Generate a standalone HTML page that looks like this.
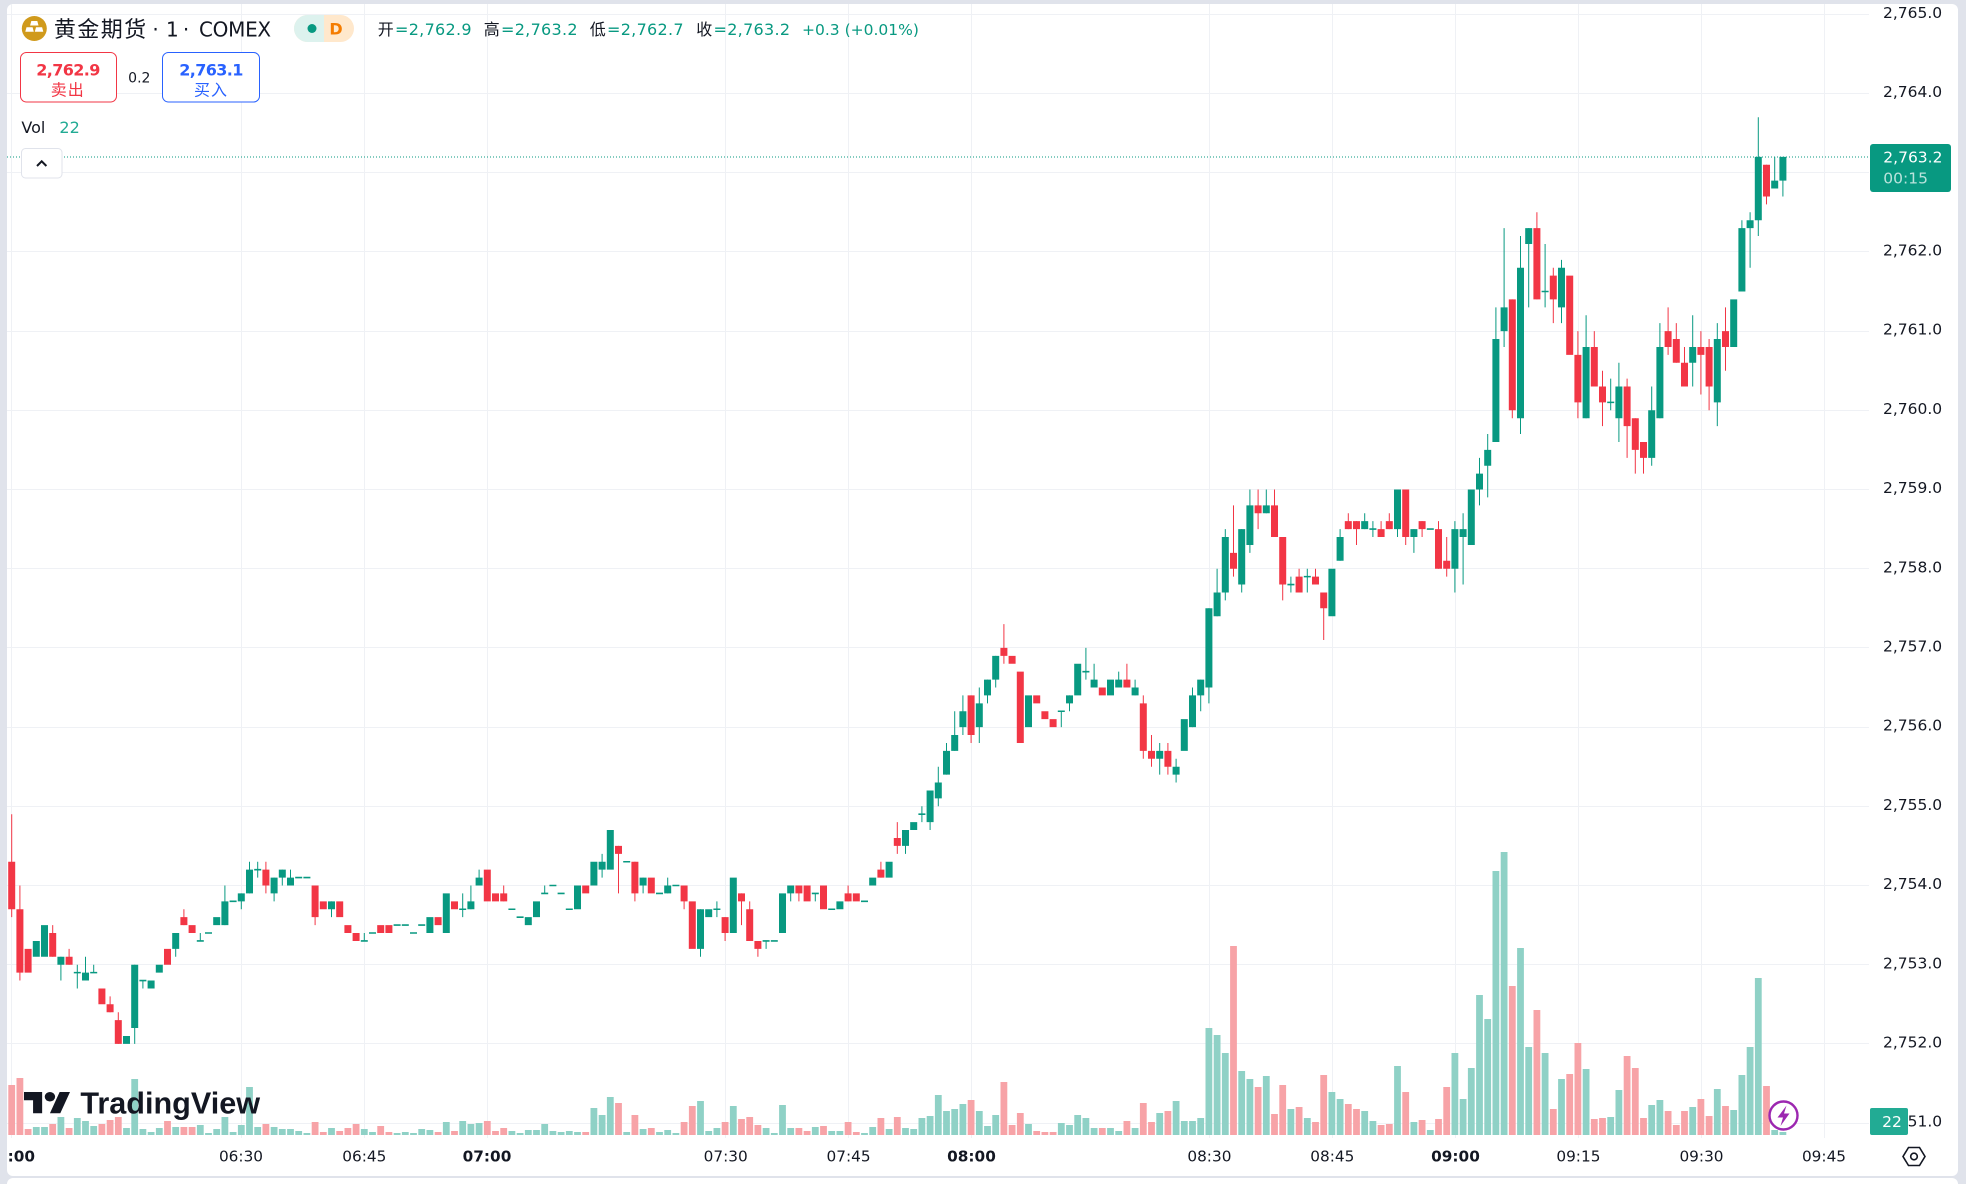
<!DOCTYPE html>
<html><head><meta charset="utf-8"><style>
html,body{margin:0;padding:0;overflow:hidden;width:1966px;height:1184px;}
body{background:#e0e3eb;}
.wrap{position:relative;width:1966px;height:1184px;overflow:hidden;background:#e0e3eb;}
.panel{position:absolute;left:7px;top:4px;width:1951px;height:1172px;background:#fff;border-radius:6px;}
.panel2{position:absolute;left:7px;top:1178px;width:1951px;height:6px;background:#fff;border-radius:6px 6px 0 0;}
svg{position:absolute;left:0;top:0;}
svg text{font-family:"DejaVu Sans","Liberation Sans","Noto Sans CJK SC",sans-serif;}
.cjk{font-family:"Liberation Sans","Noto Sans CJK SC",sans-serif !important;}
.ns{vector-effect:non-scaling-stroke;fill:none;}
</style></head><body>
<div class="wrap">
<div class="panel"></div><div class="panel2"></div>
<svg width="1966" height="1184" viewBox="0 0 1966 1184" xmlns="http://www.w3.org/2000/svg">
<defs>
<clipPath id="pane"><rect x="7" y="4" width="1862" height="1134"/></clipPath>
<clipPath id="taxis"><rect x="8" y="1138" width="1862" height="38"/></clipPath>
</defs>
<g clip-path="url(#pane)">
<path d="M7 14.5H1869M7 93.5H1869M7 172.5H1869M7 251.5H1869M7 331.5H1869M7 410.5H1869M7 489.5H1869M7 568.5H1869M7 647.5H1869M7 727.5H1869M7 806.5H1869M7 885.5H1869M7 964.5H1869M7 1043.5H1869M7 1123.5H1869" stroke="#eff1f5" stroke-width="1" fill="none"/>
<path d="M11.5 4V1138M241.5 4V1138M364.5 4V1138M487.5 4V1138M725.5 4V1138M848.5 4V1138M971.5 4V1138M1209.5 4V1138M1332.5 4V1138M1455.5 4V1138M1578.5 4V1138M1701.5 4V1138M1824.5 4V1138" stroke="#eff1f5" stroke-width="1" fill="none"/>
<g transform="translate(11.7 1135) scale(8.2 -1)">
<path class="ns" stroke="#f7a3a7" stroke-width="6.8" d="M0 0V50M1 0V57M2 0V6M5 0V11M7 0V7M11 0V11M12 0V15M13 0V18M19 0V14M21 0V8M22 0V8M31 0V11M37 0V13M38 0V3M40 0V4M41 0V7M42 0V11M45 0V9M46 0V3M52 0V3M54 0V4M58 0V14M59 0V4M60 0V7M70 0V3M74 0V32M76 0V20M78 0V7M82 0V13M83 0V29M87 0V13M89 0V16M90 0V18M91 0V10M96 0V7M97 0V4M99 0V9M102 0V13M103 0V3M106 0V17M108 0V18M117 0V35M121 0V53M122 0V10M123 0V22M125 0V4M126 0V3M127 0V3M133 0V7M136 0V14M138 0V32M139 0V13M141 0V24M149 0V189M152 0V48M154 0V21M155 0V50M157 0V28M159 0V13M160 0V60M163 0V31M164 0V26M167 0V10M168 0V11M170 0V43M172 0V15M174 0V16M175 0V48M183 0V149M186 0V125M188 0V26M190 0V61M191 0V92M193 0V16M194 0V17M197 0V79M198 0V67M199 0V17M202 0V24M203 0V10M204 0V24M206 0V36M207 0V19M209 0V29M214 0V49"/>
<path class="ns" stroke="#8fd1c6" stroke-width="6.8" d="M3 0V8M4 0V8M6 0V18M8 0V17M9 0V14M10 0V9M14 0V7M15 0V56M16 0V6M17 0V3M18 0V7M20 0V8M23 0V10M24 0V2M25 0V6M26 0V18M27 0V3M28 0V10M29 0V48M30 0V8M32 0V8M33 0V6M34 0V6M35 0V4M36 0V2M39 0V7M43 0V6M44 0V3M47 0V2M48 0V3M49 0V2M50 0V6M51 0V5M53 0V13M55 0V14M56 0V11M57 0V12M61 0V4M62 0V2M63 0V5M64 0V5M65 0V11M66 0V4M67 0V3M68 0V4M69 0V3M71 0V27M72 0V20M73 0V38M75 0V3M77 0V6M79 0V3M80 0V5M81 0V2M84 0V34M85 0V4M86 0V7M88 0V29M92 0V7M93 0V2M94 0V30M95 0V7M98 0V8M100 0V4M101 0V4M104 0V2M105 0V8M107 0V6M109 0V7M110 0V6M111 0V17M112 0V19M113 0V40M114 0V24M115 0V26M116 0V31M118 0V24M119 0V9M120 0V20M124 0V11M128 0V12M129 0V10M130 0V20M131 0V17M132 0V7M134 0V7M135 0V4M137 0V7M140 0V22M142 0V34M143 0V14M144 0V14M145 0V17M146 0V107M147 0V100M148 0V82M150 0V64M151 0V56M153 0V59M156 0V26M158 0V17M161 0V43M162 0V36M165 0V24M166 0V14M169 0V69M171 0V13M173 0V5M176 0V82M177 0V36M178 0V67M179 0V140M180 0V116M181 0V264M182 0V283M184 0V187M185 0V88M187 0V82M189 0V56M192 0V66M195 0V18M196 0V45M200 0V30M201 0V35M205 0V28M208 0V46M210 0V25M211 0V60M212 0V88M213 0V157M215 0V5M216 0V3"/>
</g>
<path d="M7 157H1869" stroke="#089981" stroke-width="1" stroke-dasharray="1 2" fill="none"/>
<g transform="translate(11.7 1202.3) scale(8.2 -7.92)">
<path class="ns" stroke="#089981" stroke-width="1" d="M6 28V31M8 27V30M9 28V31M10 29V30M15 20V30M16 27V28M20 31V34M23 33V34M26 35V40M28 37V39M29 39V43M30 41V43M32 38V41M33 40V42M34 40V42M39 36V38M43 33V34M55 36V39M56 37V40M57 40V42M65 39V40M72 41V44M77 39V41M80 39V41M84 31V37M86 36V38M92 32V33M95 38V40M98 38V39M109 44V47M111 48V50M112 47V52M113 50V55M114 54V58M115 57V62M116 59V64M118 58V65M119 63V66M120 65V69M128 60V62M129 62V64M131 66V70M132 65V68M135 65V67M137 64V66M140 54V58M142 53V56M144 60V65M145 62V66M146 63V75M147 74V80M148 76V85M150 77V85M151 82V90M153 87V90M156 77V79M158 77V80M162 81V85M165 85V87M166 84V86M169 84V90M171 82V85M176 77V86M177 78V87M179 88V94M180 89V97M181 96V113M182 108V123M184 97V122M185 113V123M187 113V121M189 111V119M192 99V112M195 100V104M196 96V106M200 93V103M201 99V111M205 103V112M208 98V111M211 115V124M212 118V125M213 122V137M215 128V132M216 127V132"/>
<path class="ns" stroke="#089981" stroke-width="7" d="M3 31V33M4 31V35M6 30V31M8 28.9V29.1M9 28V29M10 28.9V29.1M14 20V21M15 22V30M16 27.9V28.1M17 27V28M18 29V30M20 32V34M23 32.9V33.1M24 33.9V34.1M25 35V36M26 35V38M27 37.9V38.1M28 38V39M29 39V42M30 41.9V42.1M32 39V41M33 41V42M34 40V41M35 40.9V41.1M36 40.9V41.1M39 37V38M43 32.9V33.1M44 33.9V34.1M47 34.9V35.1M48 34.9V35.1M49 33.9V34.1M50 34.9V35.1M51 34V36M53 34V39M55 36.9V37.1M56 37V38M57 40V41M61 36.9V37.1M62 35.9V36.1M63 35V36M64 36V38M65 38.9V39.1M66 39.9V40.1M67 38.9V39.1M68 36.9V37.1M69 37V40M71 40V43M72 42V43M73 42V47M75 42.9V43.1M77 40V41M79 38.9V39.1M80 39V40M81 39.9V40.1M84 32V37M85 36V37M86 36.9V37.1M88 34V41M92 32.9V33.1M93 32.9V33.1M94 34V39M95 39V40M98 38.9V39.1M100 36.9V37.1M101 37V38M104 37.9V38.1M105 40V41M107 41V43M109 45V47M110 47V48M111 48.9V49.1M112 48V52M113 51V53M114 54V57M115 57V59M116 60V62M118 60V63M119 64V66M120 66V69M124 60V64M128 61.9V62.1M129 63V64M130 64V68M131 66.9V67.1M132 65V66M134 64V66M135 65V66M137 64V65M140 56V57M142 54V55M143 57V61M144 60V64M145 64V66M146 65V75M147 74V77M148 77V84M150 78V85M151 83V88M153 87V88M156 77.9V78.1M158 78.9V79.1M161 74V80M162 81V84M165 85V86M166 84.9V85.1M169 85V90M171 84V85M173 84.9V85.1M176 80V85M177 84V85M178 83V90M179 90V92M180 93V95M181 96V109M182 110V113M184 99V118M185 121V123M187 114.9V115.1M189 113V118M192 99V108M195 100.9V101.1M196 99V103M200 94V100M201 99V108M205 106V108M208 101V109M210 108V114M211 115V123M212 123V124M213 124V132M215 128V129M216 129V132"/>
<path class="ns" stroke="#f23645" stroke-width="1" d="M0 36V49M1 28V40M5 31V35M7 30V32M12 24V26M13 20V24M21 35V37M31 39V43M37 35V40M60 38V40M74 39V45M76 38V43M82 37V40M87 33V36M89 35V39M90 33V38M91 31V33M96 38V40M102 38V40M106 41V43M108 44V48M117 58V64M121 68V73M136 65V68M138 56V64M139 55V59M141 54V58M149 79V88M152 85V90M154 84V90M155 76V84M157 77V80M159 78V80M160 71V77M163 85V87M164 83V86M167 84V86M168 85V87M170 83V90M172 84V86M174 80V86M175 79V84M183 99V114M186 114V125M188 111V118M191 99V110M193 103V110M194 98V105M197 94V104M198 92V99M199 92V96M202 107V113M203 106V111M204 103V108M206 102V110M207 100V109M209 105V113M214 126V131"/>
<path class="ns" stroke="#f23645" stroke-width="7" d="M0 37V43M1 29V37M2 29V32M5 31V34M7 30V31M11 25V27M12 24V25M13 20V23M19 30V32M21 35V36M22 34V35M31 40V42M37 36V40M38 37V38M40 36V38M41 34V35M42 33V34M45 34V35M46 34V35M52 35V36M54 37V38M58 38V42M59 38V39M60 38V39M70 39V40M74 44V45M76 39V43M78 39V41M82 38V40M83 32V38M87 34V36M89 38V39M90 33V37M91 32V33M96 39V40M97 38V40M99 37V40M102 38V39M103 38V39M106 41V42M108 45V46M117 59V64M121 69V70M122 68V69M123 58V67M125 63V64M126 61V62M127 60V61M133 64V65M136 65V66M138 57V63M139 56V57M141 55V57M149 80V82M152 87V88M154 84V88M155 78V84M157 77V79M159 78V79M160 75V77M163 85V86M164 85V86M167 84V85M168 85V86M170 84V90M172 85V86M174 80V85M175 80V81M183 100V114M186 114V123M188 114V117M190 107V117M191 101V107M193 103V108M194 101V103M197 98V103M198 95V99M199 94V96M202 108V110M203 106V109M204 103V106M206 107V108M207 103V108M209 108V110M214 127V131"/>
</g>
<g transform="translate(24 1087.3) scale(1.296 1.18)" fill="#131722">
<path d="M14 22H7V11H0V4h14v18zM28 22h-8l7.5-18h8L28 22z"/><circle cx="20" cy="8" r="4"/>
</g>
<text x="80.4" y="1113.3" font-size="30.6" font-weight="bold" fill="#131722" style="font-family:'Liberation Sans',sans-serif">TradingView</text>
<circle cx="1783.5" cy="1115.5" r="14" fill="#fff" stroke="#9c27b0" stroke-width="2.4"/>
<polygon points="1786.5,1105.5 1777.5,1117.5 1783,1117.5 1780.5,1126 1789.5,1113.5 1784,1113.5" fill="#9c27b0"/>
</g>
<!-- time axis -->
<g font-size="15.3" fill="#131722" text-anchor="middle">
<g clip-path="url(#taxis)"><text x="10.7" y="1161.6" font-weight="bold">06:00</text></g>
<text x="241" y="1161.6">06:30</text>
<text x="364.3" y="1161.6">06:45</text>
<text x="487" y="1161.6" font-weight="bold">07:00</text>
<text x="725.7" y="1161.6">07:30</text>
<text x="848.6" y="1161.6">07:45</text>
<text x="971.5" y="1161.6" font-weight="bold">08:00</text>
<text x="1209.4" y="1161.6">08:30</text>
<text x="1332.3" y="1161.6">08:45</text>
<text x="1455.5" y="1161.6" font-weight="bold">09:00</text>
<text x="1578.4" y="1161.6">09:15</text>
<text x="1701.5" y="1161.6">09:30</text>
<text x="1824" y="1161.6">09:45</text>
</g>
<polygon points="1903,1156.5 1908.5,1147.5 1919.5,1147.5 1925,1156.5 1919.5,1165.5 1908.5,1165.5" fill="none" stroke="#131722" stroke-width="1.6"/>
<circle cx="1914" cy="1156.5" r="3.3" fill="none" stroke="#131722" stroke-width="1.6"/>
<!-- price axis -->
<g font-size="15.5" fill="#131722">
<text x="1883" y="17.9">2,765.0</text>
<text x="1883" y="97.1">2,764.0</text>
<text x="1883" y="255.5">2,762.0</text>
<text x="1883" y="334.7">2,761.0</text>
<text x="1883" y="413.9">2,760.0</text>
<text x="1883" y="493.1">2,759.0</text>
<text x="1883" y="572.3">2,758.0</text>
<text x="1883" y="651.5">2,757.0</text>
<text x="1883" y="730.7">2,756.0</text>
<text x="1883" y="809.9">2,755.0</text>
<text x="1883" y="889.1">2,754.0</text>
<text x="1883" y="968.3">2,753.0</text>
<text x="1883" y="1047.5">2,752.0</text>
<text x="1883" y="1126.7">2,751.0</text>
</g>
<rect x="1870" y="144" width="81" height="48" rx="3" fill="#089981"/>
<text x="1883.3" y="162.3" font-size="15.5" fill="#fff">2,763.2</text>
<text x="1883.3" y="183.6" font-size="15.5" fill="rgba(255,255,255,0.72)">00:15</text>
<rect x="1870" y="1108" width="38" height="27" rx="2" fill="#22ab94"/>
<text x="1892" y="1126.8" font-size="15.5" fill="#fff" text-anchor="middle">22</text>
<!-- header -->
<circle cx="34.3" cy="28.5" r="12.5" fill="#d09a1c"/>
<polygon points="31.3,21 37.3,21 38.5,25.5 30.1,25.5" fill="#fff"/>
<polygon points="26.5,27.2 32.6,27.2 33.8,31.8 25.3,31.8" fill="#fff"/>
<polygon points="36,27.2 42.1,27.2 43.3,31.8 34.8,31.8" fill="#fff"/>
<text x="53.9" y="37" font-size="22" letter-spacing="1.4" fill="#131722" class="cjk">黄金期货</text>
<text x="155.5" y="36.3" font-size="20" fill="#131722" text-anchor="middle">·</text>
<text x="166" y="36.3" font-size="20" fill="#131722">1</text>
<text x="186" y="36.3" font-size="20" fill="#131722" text-anchor="middle">·</text>
<text x="199" y="36.3" font-size="20" letter-spacing="-0.3" fill="#131722">COMEX</text>
<rect x="294" y="15" width="60" height="27" rx="13.5" fill="#ffe8cc"/>
<path d="M307.5 15H324V42H307.5A13.5 13.5 0 0 1 307.5 15Z" fill="#ddf2ee"/>
<circle cx="312" cy="28.5" r="4.5" fill="#089981"/>
<text x="336" y="34.3" font-size="16" font-weight="bold" fill="#f57c00" text-anchor="middle">D</text>
<g font-size="16" letter-spacing="0.3">
<text x="377.8" y="35" fill="#131722" class="cjk">开</text>
<text x="395" y="35" fill="#089981">=2,762.9</text>
<text x="483.8" y="35" fill="#131722" class="cjk">高</text>
<text x="501" y="35" fill="#089981">=2,763.2</text>
<text x="589.7" y="35" fill="#131722" class="cjk">低</text>
<text x="607" y="35" fill="#089981">=2,762.7</text>
<text x="696.3" y="35" fill="#131722" class="cjk">收</text>
<text x="713.5" y="35" fill="#089981">=2,763.2</text>
<text x="802" y="35" fill="#089981" font-size="15.5" letter-spacing="0">+0.3 (+0.01%)</text>
</g>
<rect x="20.5" y="52.5" width="96" height="49.5" rx="6" fill="#fff" stroke="#f23645" stroke-width="1"/>
<text x="68" y="75.5" font-size="16" font-weight="bold" letter-spacing="-0.6" fill="#f23645" text-anchor="middle">2,762.9</text>
<text x="67.7" y="95.3" font-size="16" letter-spacing="1" fill="#f23645" text-anchor="middle" class="cjk">卖出</text>
<text x="139.3" y="82.3" font-size="14" fill="#131722" text-anchor="middle">0.2</text>
<rect x="162.5" y="52.5" width="97" height="49.5" rx="6" fill="#fff" stroke="#2962ff" stroke-width="1"/>
<text x="211" y="75.5" font-size="16" font-weight="bold" letter-spacing="-0.6" fill="#2962ff" text-anchor="middle">2,763.1</text>
<text x="211" y="95.3" font-size="16" letter-spacing="1" fill="#2962ff" text-anchor="middle" class="cjk">买入</text>
<text x="21.4" y="133" font-size="16" fill="#131722">Vol</text>
<text x="59.4" y="133" font-size="16" fill="#22ab94">22</text>
<rect x="21.5" y="148.5" width="40.5" height="29.5" rx="4" fill="#fff" stroke="#e0e3eb" stroke-width="1"/>
<polyline points="37,166 41.7,161.3 46.4,166" fill="none" stroke="#131722" stroke-width="2"/>
</svg>
</div>
</body></html>
